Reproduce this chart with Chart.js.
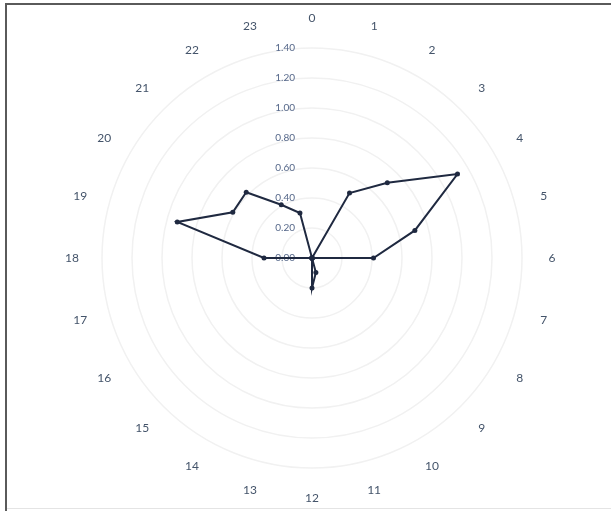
<!DOCTYPE html>
<html>
<head>
<meta charset="utf-8">
<script src="https://cdn.jsdelivr.net/npm/chart.js@4/dist/chart.umd.min.js"></script>
<style>
  html, body { margin: 0; padding: 0; background: #fff; }
  #wrap { position: relative; width: 611px; height: 511px; overflow: hidden; }
  #frameTop { position: absolute; left: 5px; top: 3px; width: 606px; height: 2px; background: #5a5a5a; }
  #frameLeft { position: absolute; left: 5px; top: 3px; width: 2px; height: 508px; background: #5a5a5a; }
  #frameBottom { position: absolute; left: 7px; top: 508px; width: 604px; height: 1px; background: #e4e4e4; }
  canvas { position: absolute; left: 0; top: 0; }
</style>
</head>
<body>
<div id="wrap">
  <canvas id="myChart" width="611" height="511"></canvas>
  <div id="frameTop"></div>
  <div id="frameLeft"></div>
  <div id="frameBottom"></div>
</div>
<script>
var hours = ["0", "1", "2", "3", "4", "5", "6", "7", "8", "9", "10", "11",
    "12", "13", "14", "15", "16", "17", "18", "19", "20", "21", "22", "23"];
var values = [0, 0, 0.50, 0.71, 1.12, 0.71, 0.41, 0, 0, 0, 0, 0.10,
    0.20, 0, 0, 0, 0, 0, 0.32, 0.93, 0.61, 0.62, 0.41, 0.31];
var tickMin = 0;
var tickMax = 1.4;
var tickStep = 0.2;

var lineColor = "#1f2940";
var labelColor = "#44546a";

// labels drawn from the scale: hour names on a circle, tick values left of centre
var labelPlugin = {
    id: "radarLabels",
    beforeDatasetsDraw: function (chart) {
        var scale = chart.scales.r;
        var c = chart.ctx;
        c.save();
        c.textBaseline = "middle";

        c.font = "10px Lato, 'Open Sans', sans-serif";
        c.fillStyle = "#56688a";
        c.textAlign = "right";
        scale.ticks.forEach(function (t) {
            var d = scale.getDistanceFromCenterForValue(t.value);
            c.fillText(t.value.toFixed(2), scale.xCenter - 17, scale.yCenter - d);
        });

        c.font = "12px Lato, 'Open Sans', sans-serif";
        c.fillStyle = labelColor;
        c.textAlign = "center";
        hours.forEach(function (h, i) {
            var p = scale.getPointPosition(i, scale.drawingArea + 30);
            c.fillText(h, p.x, p.y);
        });
        c.restore();
    }
};

var ctx = document.getElementById("myChart").getContext("2d");
var chart = new Chart(ctx, {
    type: "radar",
    data: {
        labels: hours,
        datasets: [
            {
                data: values,
                borderColor: lineColor,
                backgroundColor: "rgba(0,0,0,0)",
                borderWidth: 2,
                pointRadius: 2.5,
                pointBackgroundColor: lineColor,
                pointBorderColor: lineColor,
                pointBorderWidth: 0,
                fill: false,
                tension: 0
            }
        ]
    },
    options: {
        responsive: false,
        animation: false,
        layout: { padding: { top: 48, bottom: 43, left: 102, right: 89 } },
        plugins: {
            legend: { display: false },
            tooltip: { enabled: false }
        },
        scales: {
            r: {
                min: tickMin,
                max: tickMax,
                ticks: { stepSize: tickStep, display: false },
                grid: { circular: true, color: "#f1f1f1", lineWidth: 1.5 },
                angleLines: { display: false },
                pointLabels: { display: false }
            }
        }
    },
    plugins: [labelPlugin]
});
</script>
</body>
</html>
